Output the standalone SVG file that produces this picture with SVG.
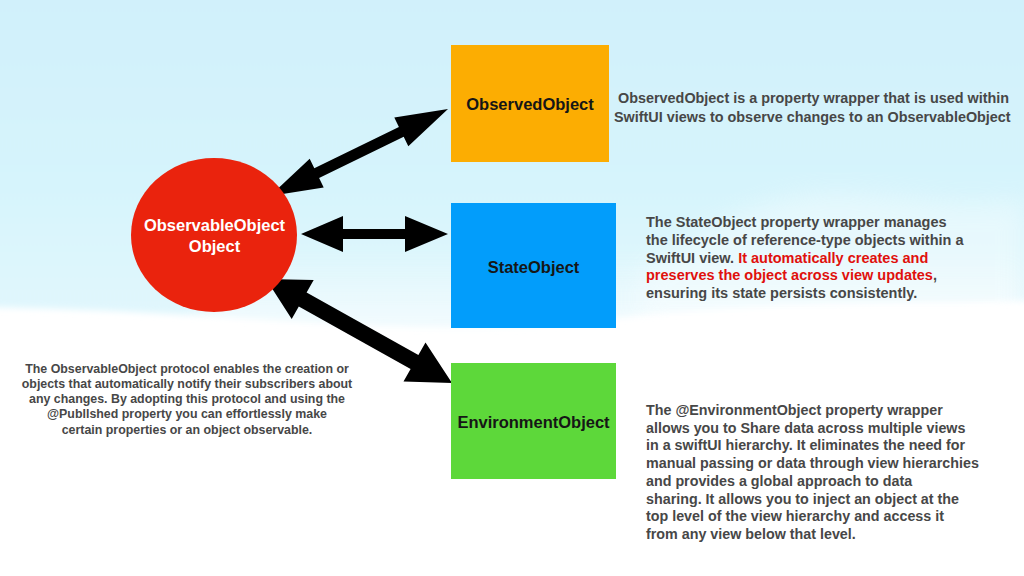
<svg xmlns="http://www.w3.org/2000/svg" width="1024" height="576" viewBox="0 0 1024 576">
  <defs>
    <linearGradient id="sky" x1="0" y1="0" x2="0" y2="1">
      <stop offset="0" stop-color="#d0f0fb"/>
      <stop offset="0.6" stop-color="#d6f4fc"/>
      <stop offset="1" stop-color="#e2f7fd"/>
    </linearGradient>
    <linearGradient id="fade" x1="0" y1="0" x2="0" y2="1">
      <stop offset="0" stop-color="#ffffff" stop-opacity="0"/>
      <stop offset="1" stop-color="#ffffff" stop-opacity="1"/>
    </linearGradient>
    <filter id="soft" x="-10%" y="-10%" width="120%" height="130%">
      <feGaussianBlur stdDeviation="3"/>
    </filter>
    <filter id="softer" x="-20%" y="-20%" width="140%" height="140%">
      <feGaussianBlur stdDeviation="12"/>
    </filter>
    <style>
      .lbl { font-family: "Liberation Sans", Arial, sans-serif; font-weight: bold; font-size: 16.5px; fill: #161616; text-anchor: middle; }
      .circ { font-family: "Liberation Sans", Arial, sans-serif; font-weight: bold; font-size: 16.5px; fill: #ffffff; text-anchor: middle; }
      .desc { font-family: "Liberation Sans", Arial, sans-serif; font-weight: bold; font-size: 14.4px; fill: #474747; }
      .wide { font-size: 14.3px; }
      .small { font-family: "Liberation Sans", Arial, sans-serif; font-weight: bold; font-size: 12.4px; fill: #474747; text-anchor: middle; }
      .red { fill: #e0100c; }
      .arrow { fill: #000000; }
    </style>
  </defs>

  <!-- background -->
  <rect x="0" y="0" width="1024" height="576" fill="#ffffff"/>
  <path d="M-30,-30 H1054 V300 C 900,305 760,300 600,320 C 450,338 300,320 150,313 C 90,310 40,308 -30,307 Z" fill="url(#sky)" filter="url(#soft)"/>
  <rect x="200" y="250" width="824" height="110" fill="url(#fade)" filter="url(#softer)" opacity="0.8"/>
  <path d="M640,270 C 700,230 760,195 830,193 C 900,192 960,212 1024,198 V 330 H 640 Z" fill="#ffffff" opacity="0.35" filter="url(#softer)"/>

  <!-- connectors -->
  <g id="connectors">
    <polygon class="arrow" points="270,196 309.7,158.8 314.3,168.3 398.9,126.9 394.3,117.4 448,109 408.3,146.2 403.7,136.7 319.1,178.1 323.7,187.6"/>
    <polygon class="arrow" points="301,234 343,216 343,229 405,229 405,216 448,234 405,252 405,239 343,239 343,252"/>
    <polygon class="arrow" points="266,279 313.7,279.9 306.6,292.5 418.4,355 425.5,342.4 452,383 403.5,381.6 410.6,369 298.8,306.5 291.7,319.1"/>
  </g>

  <!-- central node -->
  <g id="observableobject">
    <ellipse cx="214" cy="235" rx="83" ry="77" fill="#ea230d"/>
    <text class="circ" x="214.5" y="230.7">ObservableObject</text>
    <text class="circ" x="214.5" y="251.7">Object</text>
  </g>

  <g id="observedobject">
    <rect x="451" y="45" width="158" height="117" fill="#fcad02"/>
    <text class="lbl" x="530" y="110">ObservedObject</text>
  </g>

  <g id="stateobject">
    <rect x="451" y="203" width="165" height="125" fill="#029dfb"/>
    <text class="lbl" x="533.5" y="272.7">StateObject</text>
  </g>

  <g id="environmentobject">
    <rect x="451" y="363" width="165" height="116" fill="#5dd83a"/>
    <text class="lbl" x="533.5" y="428">EnvironmentObject</text>
  </g>

  <!-- descriptions -->
  <g id="observedobject-desc">
    <text class="desc" x="618" y="103">ObservedObject is a property wrapper that is used within</text>
    <text class="desc" x="614" y="121.5">SwiftUI views to observe changes to an ObservableObject</text>
  </g>

  <g id="stateobject-desc">
    <text class="desc" x="646" y="227.3" style="font-size:14.5px">The StateObject property wrapper manages</text>
    <text class="desc" x="646" y="245" style="font-size:14.5px">the lifecycle of reference-type objects within a</text>
    <text class="desc" x="646" y="262.7" style="font-size:14.5px">SwiftUI view. <tspan class="red">It automatically creates and</tspan></text>
    <text class="desc" x="646" y="280.4" style="font-size:14.5px"><tspan class="red">preserves the object across view updates</tspan>,</text>
    <text class="desc" x="646" y="298" style="font-size:14.5px">ensuring its state persists consistently.</text>
  </g>

  <g id="environmentobject-desc">
    <text class="desc wide" x="646" y="415">The @EnvironmentObject property wrapper</text>
    <text class="desc wide" x="646" y="432.7">allows you to Share data across multiple views</text>
    <text class="desc wide" x="646" y="450.4">in a swiftUI hierarchy. It eliminates the need for</text>
    <text class="desc wide" x="646" y="468.1">manual passing or data through view hierarchies</text>
    <text class="desc wide" x="646" y="485.8">and provides a global approach to data</text>
    <text class="desc wide" x="646" y="503.5">sharing. It allows you to inject an object at the</text>
    <text class="desc wide" x="646" y="521.2">top level of the view hierarchy and access it</text>
    <text class="desc wide" x="646" y="538.9">from any view below that level.</text>
  </g>

  <g id="observableobject-desc">
    <text class="small" x="187" y="372.5">The ObservableObject protocol enables the creation or</text>
    <text class="small" x="187" y="387.8">objects that automatically notify their subscribers about</text>
    <text class="small" x="187" y="403.1">any changes. By adopting this protocol and using the</text>
    <text class="small" x="187" y="418.4">@Publlshed property you can effortlessly make</text>
    <text class="small" x="187" y="433.7">certain properties or an object observable.</text>
  </g>
</svg>
